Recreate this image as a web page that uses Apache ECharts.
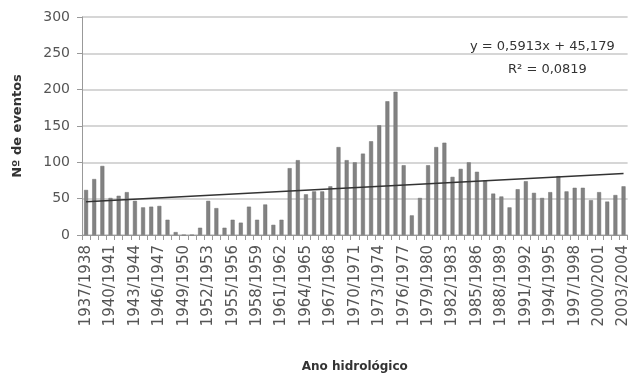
<!DOCTYPE html>
<html>
<head>
<meta charset="utf-8">
<script src="https://cdn.jsdelivr.net/npm/echarts@6/dist/echarts.min.js"></script>
<style>
  html, body { margin: 0; padding: 0; background: #fff; }
  #chart { width: 631px; height: 378px; }
</style>
</head>
<body>
<div id="chart"></div>
<script>
// anos hidrologicos
const categories = [
  '1937/1938', '1938/1939', '1939/1940', '1940/1941', '1941/1942', '1942/1943',
  '1943/1944', '1944/1945', '1945/1946', '1946/1947', '1947/1948', '1948/1949',
  '1949/1950', '1950/1951', '1951/1952', '1952/1953', '1953/1954', '1954/1955',
  '1955/1956', '1956/1957', '1957/1958', '1958/1959', '1959/1960', '1960/1961',
  '1961/1962', '1962/1963', '1963/1964', '1964/1965', '1965/1966', '1966/1967',
  '1967/1968', '1968/1969', '1969/1970', '1970/1971', '1971/1972', '1972/1973',
  '1973/1974', '1974/1975', '1975/1976', '1976/1977', '1977/1978', '1978/1979',
  '1979/1980', '1980/1981', '1981/1982', '1982/1983', '1983/1984', '1984/1985',
  '1985/1986', '1986/1987', '1987/1988', '1988/1989', '1989/1990', '1990/1991',
  '1991/1992', '1992/1993', '1993/1994', '1994/1995', '1995/1996', '1996/1997',
  '1997/1998', '1998/1999', '1999/2000', '2000/2001', '2001/2002', '2002/2003',
  '2003/2004'
]

// Nº de eventos por ano
const eventos = [
  62, 77, 95, 51, 54, 59, 47, 38, 39, 40,
  21, 4, 0, 0, 10, 47, 37, 10, 21, 17,
  39, 21, 42, 14, 21, 92, 103, 56, 60, 60,
  67, 121, 103, 100, 112, 129, 151, 184, 197, 96,
  27, 51, 96, 121, 127, 80, 91, 100, 87, 75,
  57, 53, 38, 63, 74, 58, 51, 59, 81, 60,
  65, 65, 48, 59, 46, 55, 67
]

const yTicks = [0, 50, 100, 150, 200, 250, 300]

// linha de tendencia (como no grafico)
const trendSlope = 0.5913
const trendIntercept = 45.179
const trendLabels = ['y = 0,5913x + 45,179', 'R² = 0,0819']

const nLast = categories.length
const trendStart = trendSlope * 1 + trendIntercept
const trendEnd = trendSlope * nLast + trendIntercept

var chartDom = document.getElementById('chart');
var myChart = echarts.init(chartDom);
var option;

option = {
  animation: false,
  textStyle: { fontFamily: 'DejaVu Sans' },
  grid: { left: 82, top: 17, right: -1, height: 223 },
  xAxis: {
    type: 'category',
    data: categories,
    name: 'Ano hidrológico',
    nameLocation: 'middle',
    nameGap: 126,
    nameTextStyle: { fontSize: 12, fontWeight: 'bold', color: '#333' },
    axisLine: { lineStyle: { color: '#999', width: 1 } },
    axisTick: { show: true, interval: 0, length: 5, lineStyle: { color: '#999' } },
    axisLabel: {
      interval: 2,
      rotate: 90,
      fontSize: 15,
      color: '#555',
      margin: 10
    }
  },
  yAxis: {
    type: 'value',
    min: 0,
    max: yTicks[yTicks.length - 1],
    interval: 50,
    name: 'Nº de eventos',
    nameLocation: 'middle',
    nameGap: 58,
    nameTextStyle: { fontSize: 13, fontWeight: 'bold', color: '#333' },
    axisLine: { show: true, lineStyle: { color: '#999' } },
    axisTick: { show: true, length: 5, lineStyle: { color: '#999' } },
    splitLine: { lineStyle: { color: '#c8c8c8', width: 1.5 } },
    axisLabel: { fontSize: 14, color: '#555', margin: 12 }
  },
  series: [
    {
      type: 'bar',
      data: eventos,
      barWidth: 4,
      itemStyle: { color: '#828282', borderColor: '#707070', borderWidth: 0.5 },
      markLine: {
        silent: true,
        symbol: 'none',
        label: { show: false },
        lineStyle: { color: '#333', width: 1.5, type: 'solid' },
        data: [[
          { coord: [categories[0], trendStart] },
          { coord: [categories[nLast - 1], trendEnd] }
        ]]
      }
    }
  ],
  graphic: [
    {
      type: 'text', left: 470, top: 40,
      style: { text: trendLabels[0], fontSize: 13, fill: '#333', fontFamily: 'DejaVu Sans' }
    },
    {
      type: 'text', left: 508, top: 63,
      style: { text: trendLabels[1], fontSize: 13, fill: '#333', fontFamily: 'DejaVu Sans' }
    }
  ]
};

option && myChart.setOption(option);
</script>
</body>
</html>
